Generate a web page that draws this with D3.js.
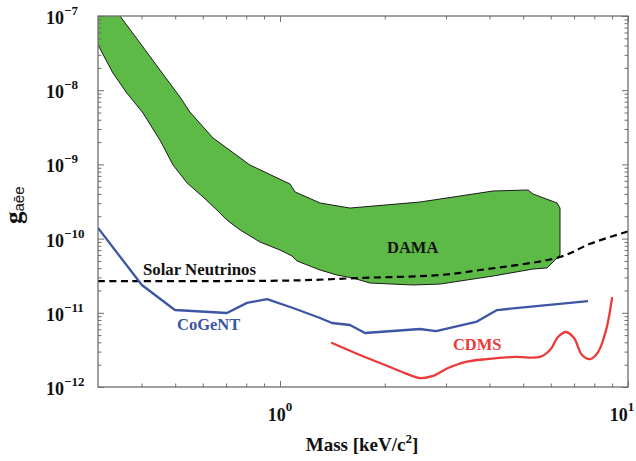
<!DOCTYPE html>
<html>
<head>
<meta charset="utf-8">
<script src="https://cdn.jsdelivr.net/npm/d3@7"></script>
<style>
  body { margin: 0; background: #fff; }
  svg text { font-family: "Liberation Serif", "Times New Roman", serif; font-weight: bold; }
</style>
</head>
<body>
<svg id="chart" width="636" height="461"></svg>
<script>
// DAMA allowed region: upper boundary (left to right, including the right-hand edge)
const damaUpper = [
  [0.347, 1.0e-7], [0.404, 3.82e-8], [0.452, 1.87e-8], [0.516, 8.10e-9],
  [0.551, 5.08e-9], [0.642, 2.27e-9], [0.820, 9.81e-10], [1.069, 5.44e-10],
  [1.105, 4.25e-10], [1.304, 3.02e-10], [1.589, 2.58e-10], [2.525, 3.11e-10],
  [4.095, 4.38e-10], [5.163, 4.52e-10], [5.334, 3.99e-10], [6.252, 3.02e-10],
  [6.377, 2.58e-10], [6.377, 6.01e-11]
];
// DAMA allowed region: lower boundary (right to left)
const damaLower = [
  [5.853, 4.02e-11], [5.334, 3.89e-11], [4.095, 3.13e-11], [2.884, 2.44e-11],
  [2.411, 2.37e-11], [1.814, 2.52e-11], [1.621, 2.94e-11], [1.459, 3.23e-11],
  [1.304, 3.77e-11], [1.120, 4.99e-11], [1.083, 5.83e-11], [1.000, 7.02e-11],
  [0.876, 9.00e-11], [0.768, 1.31e-10], [0.704, 1.78e-10], [0.659, 2.43e-10],
  [0.601, 3.64e-10], [0.541, 5.61e-10], [0.493, 9.81e-10], [0.452, 2.13e-9],
  [0.404, 4.93e-9], [0.363, 9.17e-9], [0.331, 1.71e-8], [0.300, 4.07e-8]
];
// Solar neutrino bound
const solarNeutrinos = [
  [0.30, 2.68e-11], [0.70, 2.68e-11], [1.14, 2.74e-11], [1.665, 2.94e-11],
  [2.884, 3.23e-11], [3.757, 3.77e-11], [6.377, 5.65e-11], [7.779, 8.50e-11],
  [10.0, 1.25e-10]
];
// CoGeNT limit
const cogent = [
  [0.300, 1.39e-10], [0.401, 2.37e-11], [0.499, 1.09e-11], [0.704, 9.94e-12],
  [0.804, 1.36e-11], [0.918, 1.53e-11], [1.090, 1.16e-11], [1.304, 8.51e-12],
  [1.411, 7.29e-12], [1.589, 6.85e-12], [1.755, 5.34e-12], [2.525, 6.05e-12],
  [2.808, 5.68e-12], [3.660, 7.52e-12], [4.205, 1.09e-11], [7.676, 1.44e-11]
];
// CDMS limit
const cdms = [
  [1.411, 3.92e-12], [1.698, 2.70e-12], [2.003, 1.98e-12], [2.287, 1.54e-12],
  [2.525, 1.32e-12], [2.753, 1.41e-12], [3.040, 1.80e-12], [3.403, 2.17e-12],
  [3.936, 2.38e-12], [4.737, 2.54e-12], [5.588, 2.54e-12], [5.969, 3.15e-12],
  [6.294, 4.72e-12], [6.635, 5.51e-12], [6.996, 4.58e-12], [7.377, 2.70e-12],
  [7.779, 2.38e-12], [8.204, 2.96e-12], [8.651, 5.87e-12], [8.997, 1.58e-11]
];

// Axis ticks
const xMajorTicks = [1, 10];
const xMajorExponents = ["0", "1"];
const xMinorTicks = [0.4, 0.5, 0.6, 0.7, 0.8, 0.9, 2, 3, 4, 5, 6, 7, 8, 9];
const yMajorTicks = [1e-12, 1e-11, 1e-10, 1e-9, 1e-8, 1e-7];
const yMajorExponents = ["\u221212", "\u221211", "\u221210", "\u22129", "\u22128", "\u22127"];
const yMinorTicks = [];
for (let e = -12; e < -7; e++) for (let k = 2; k <= 9; k++) yMinorTicks.push(+(k + "e" + e));

const svg = d3.select("#chart");
const plotLeft = 98, plotRight = 628, plotTop = 16, plotBottom = 387;

const x = d3.scaleLog().domain([0.3, 10]).range([plotLeft, plotRight]);
const y = d3.scaleLog().domain([1e-12, 1e-7]).range([plotBottom, plotTop]);

svg.append("defs").append("clipPath").attr("id", "plot-clip")
  .append("rect").attr("x", plotLeft).attr("y", plotTop)
  .attr("width", plotRight - plotLeft).attr("height", plotBottom - plotTop);

const plot = svg.append("g").attr("clip-path", "url(#plot-clip)");
const line = d3.line().x(d => x(d[0])).y(d => y(d[1]));
const smooth = d3.line().x(d => x(d[0])).y(d => y(d[1])).curve(d3.curveCatmullRom);

// DAMA band: fill, then outline along the two boundaries
plot.append("path")
  .attr("d", line([[0.3, 1e-7], ...damaUpper, ...damaLower]) + "Z")
  .attr("fill", "#5eba47").attr("stroke", "none");
plot.append("path")
  .attr("d", line([...damaUpper, ...damaLower]))
  .attr("fill", "none").attr("stroke", "#1b1b1b").attr("stroke-width", 1);

// Solar neutrinos (dashed)
plot.append("path")
  .attr("d", smooth(solarNeutrinos))
  .attr("fill", "none").attr("stroke", "#000").attr("stroke-width", 2.2)
  .attr("stroke-dasharray", "7,4.5");

// CoGeNT
plot.append("path")
  .attr("d", line(cogent))
  .attr("fill", "none").attr("stroke", "#3c55a5").attr("stroke-width", 2.3)
  .attr("stroke-linejoin", "round");

// CDMS
plot.append("path")
  .attr("d", smooth(cdms))
  .attr("fill", "none").attr("stroke", "#ec3a3a").attr("stroke-width", 2.3)
  .attr("stroke-linecap", "round");

// Frame and inward ticks on all four sides
const tickColor = "#6e6e6e";
function ticks(axis, tx, ty) {
  const g = svg.append("g").attr("transform", `translate(${tx},${ty})`).call(axis);
  g.select(".domain").remove();
  g.selectAll(".tick line").attr("stroke", tickColor).attr("stroke-width", 1);
  g.selectAll(".tick text").remove();
}
[[xMajorTicks, 6], [xMinorTicks, 3.5]].forEach(([vals, len]) => {
  ticks(d3.axisBottom(x).tickValues(vals).tickSize(-len).tickFormat(""), 0, plotBottom);
  ticks(d3.axisTop(x).tickValues(vals).tickSize(-len).tickFormat(""), 0, plotTop);
});
[[yMajorTicks, 6], [yMinorTicks, 3.5]].forEach(([vals, len]) => {
  ticks(d3.axisLeft(y).tickValues(vals).tickSize(-len).tickFormat(""), plotLeft, 0);
  ticks(d3.axisRight(y).tickValues(vals).tickSize(-len).tickFormat(""), plotRight, 0);
});
svg.append("rect").attr("x", plotLeft).attr("y", plotTop)
  .attr("width", plotRight - plotLeft).attr("height", plotBottom - plotTop)
  .attr("fill", "none").attr("stroke", tickColor).attr("stroke-width", 1.3);

// Tick labels (powers of ten); the last x label is kept inside the page edge
yMajorTicks.forEach((v, i) => {
  const t = svg.append("text").attr("x", 46).attr("y", y(v) + 8)
    .attr("font-size", 18).attr("fill", "#111");
  t.append("tspan").text("10");
  t.append("tspan").attr("dy", -9).attr("font-size", 13).text(yMajorExponents[i]);
});
xMajorTicks.forEach((v, i) => {
  const t = svg.append("text").attr("x", Math.min(x(v), 622)).attr("y", plotBottom + 34)
    .attr("text-anchor", "middle").attr("font-size", 18).attr("fill", "#111");
  t.append("tspan").text("10");
  t.append("tspan").attr("dy", -10).attr("font-size", 13).text(xMajorExponents[i]);
});

// Axis titles
const xt = svg.append("text").attr("x", 362).attr("y", 451)
  .attr("text-anchor", "middle").attr("font-size", 19).attr("fill", "#111");
xt.append("tspan").text("Mass [keV/c");
xt.append("tspan").attr("dy", -8).attr("font-size", 13).text("2");
xt.append("tspan").attr("dy", 8).text("]");

const yt = svg.append("text").attr("transform", "translate(22,224) rotate(-90)")
  .attr("font-size", 25).attr("fill", "#111");
yt.append("tspan").text("g");
yt.append("tspan").attr("dy", 2).attr("font-size", 15)
  .attr("style", "font-family:'Liberation Sans',Arial,sans-serif;font-weight:normal")
  .text("a\u0113e");

// Curve labels
const labels = [
  { text: "DAMA", m: 2.03, g: 6.4e-11, color: "#111", size: 16.5 },
  { text: "Solar Neutrinos", m: 0.404, g: 3.23e-11, color: "#111", size: 16.8 },
  { text: "CoGeNT", m: 0.506, g: 5.87e-12, color: "#3c55a5", size: 16.5 },
  { text: "CDMS", m: 3.14, g: 3.15e-12, color: "#ec3a3a", size: 16.5 }
];
svg.selectAll("text.curve-label").data(labels).join("text")
  .attr("class", "curve-label")
  .attr("x", d => x(d.m)).attr("y", d => y(d.g))
  .attr("font-size", d => d.size).attr("fill", d => d.color)
  .text(d => d.text);
</script>
</body>
</html>
